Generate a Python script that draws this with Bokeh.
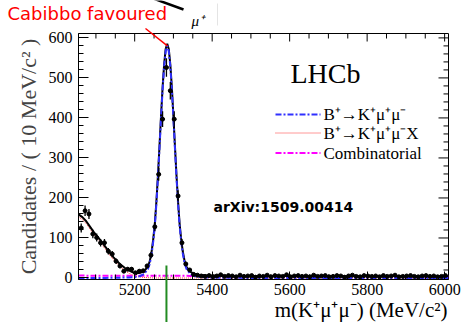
import math
from bokeh.plotting import figure
from bokeh.layouts import column
from bokeh.models import Range1d, Label, SingleIntervalTicker, ColumnDataSource
from bokeh.embed import file_html
from bokeh.resources import INLINE

# ---------------- data ----------------
bin_centers = list(range(5062, 6003, 10))          # 10 MeV/c^2 bins
counts = [125, 168, 160, 110, 101, 88, 88, 67, 60, 42,
          30, 17, 22, 22, 13, 17, 18, 30, 57, 128,
          259, 397, 526, 468, 397, 205, 88, 35, 20, 9,
          7, 5, 4, 6, 3, 5, 8, 4, 6, 5,
          3, 7, 4, 5, 6, 2, 5, 4, 7, 3,
          6, 5, 4, 8, 3, 5, 6, 4, 5, 3,
          7, 4, 5, 6, 3, 4, 6, 5, 2, 5,
          7, 4, 3, 6, 5, 4, 5, 3, 6, 4,
          5, 7, 3, 4, 5, 6, 4, 3, 5, 6,
          4, 5, 3, 4, 6]

fit_x = [5055, 5065, 5075, 5085, 5095, 5105, 5115, 5125, 5135, 5145, 5155, 5165, 5175, 5185, 5195, 5205,
         5214, 5224, 5234, 5239, 5244, 5248,
         5252, 5256, 5260, 5264, 5268, 5272, 5276, 5280, 5284, 5288, 5292, 5296, 5300, 5304, 5308, 5312,
         5316, 5320, 5324,
         5329, 5334, 5344, 5354, 5364, 5384, 5434,
         5500, 5600, 5700, 5800, 5900, 6010]
fit_signal = [0, 0, 0, 0, 0, 0.1, 0.2, 0.3, 0.4, 0.5, 0.7, 0.9, 1.1, 1.4, 1.8, 2.5,
              5, 10, 22, 36, 62, 92,
              130, 185, 250, 323, 399, 470, 528, 567, 580, 567, 528, 470, 399, 323, 250, 185,
              130, 92, 62,
              36, 22, 10, 5, 3, 1.5, 0.5,
              0.2, 0.1, 0, 0, 0, 0]
fit_partreco = [153, 146, 136, 122, 108, 96, 84, 71, 58, 46, 35, 26, 18, 12, 7, 4,
                2.5, 1.4, 0.8, 0.6, 0.4, 0.3,
                0.2, 0.15, 0.1, 0.08, 0.05, 0, 0, 0, 0, 0, 0, 0, 0, 0, 0, 0,
                0, 0, 0,
                0, 0, 0, 0, 0, 0, 0,
                0, 0, 0, 0, 0, 0]
fit_comb = [6.0, 6.0, 5.9, 5.9, 5.9, 5.8, 5.8, 5.8, 5.8, 5.7, 5.7, 5.7, 5.7, 5.6, 5.6, 5.6,
            5.6, 5.5, 5.5, 5.5, 5.5, 5.5,
            5.5, 5.5, 5.5, 5.5, 5.5, 5.4, 5.4, 5.4, 5.4, 5.4, 5.4, 5.4, 5.4, 5.4, 5.4, 5.4,
            5.4, 5.4, 5.4,
            5.4, 5.4, 5.3, 5.3, 5.3, 5.3, 5.2,
            5.1, 5.0, 4.9, 4.8, 4.7, 4.6]

legend_labels = ["B⁺→K⁺μ⁺μ⁻", "B⁺→K⁺μ⁺μ⁻X", "Combinatorial"]
x_major = [5200, 5400, 5600, 5800, 6000]
x_minor = [m for m in range(5100, 6001, 50) if m not in x_major]
y_major = [0, 100, 200, 300, 400, 500, 600]
y_minor = [m for m in range(20, 601, 20) if m not in y_major]

# ---------------- geometry ----------------
W, H = 464, 322
BL, BR, BT, BB = 78, 16, 33, 43
X0, X1 = 5055, 6010
Y0, Y1 = -3.75, 611
dx = (X1 - X0) / (W - BL - BR)     # data units per pixel
dy = (Y1 - Y0) / (H - BT - BB)

# ---------------- derived tables ----------------
fit_total = [s + b + c for s, b, c in zip(fit_signal, fit_partreco, fit_comb)]
err = [math.sqrt(max(n, 1)) for n in counts]
data_src = ColumnDataSource(dict(
    x=bin_centers, y=counts,
    ylo=[n - e for n, e in zip(counts, err)], yhi=[n + e for n, e in zip(counts, err)],
    xlo=[x - 5 for x in bin_centers], xhi=[x + 5 for x in bin_centers]))
fit_src = ColumnDataSource(dict(x=fit_x, sig=fit_signal, part=fit_partreco,
                                comb=fit_comb, tot=fit_total))

SERIF = "Liberation Serif"

p = figure(width=W, height=H, x_range=Range1d(X0, X1), y_range=Range1d(Y0, Y1),
           output_backend="svg", toolbar_location=None,
           min_border_left=BL, min_border_right=BR, min_border_top=BT, min_border_bottom=BB,
           background_fill_color="white", border_fill_color="white")
p.frame_align = False
p.xgrid.visible = False
p.ygrid.visible = False
p.outline_line_color = "black"
p.outline_line_width = 1

def style_axis(ax, ticker, major_len, minor_len):
    ax.ticker = ticker
    ax.axis_line_color = "black"
    ax.major_tick_in = major_len
    ax.major_tick_out = 0
    ax.minor_tick_in = minor_len
    ax.minor_tick_out = 0
    ax.major_tick_line_color = "black"
    ax.minor_tick_line_color = "black"
    ax.major_label_text_font = SERIF
    ax.major_label_text_font_size = "16px"
    ax.major_label_text_color = "black"

xax = p.xaxis[0]
style_axis(xax, SingleIntervalTicker(interval=200, num_minor_ticks=4), 8, 5)
xax.major_label_standoff = 4
yax = p.yaxis[0]
style_axis(yax, SingleIntervalTicker(interval=100, num_minor_ticks=5), 10, 5)
yax.major_label_standoff = 6
yax.axis_label = "Candidates / ( 10 MeV/c² )"
yax.axis_label_text_font = SERIF
yax.axis_label_text_font_size = "22px"
yax.axis_label_text_font_style = "normal"
yax.axis_label_standoff = 5

# mirrored ticks on the top and right edges of the frame
p.segment(x0=x_major, y0=[Y1] * len(x_major), x1=x_major, y1=[Y1 - 8 * dy] * len(x_major),
          line_color="black", line_width=1)
p.segment(x0=x_minor, y0=[Y1] * len(x_minor), x1=x_minor, y1=[Y1 - 5 * dy] * len(x_minor),
          line_color="black", line_width=1)
p.segment(x0=[X1] * len(y_major), y0=y_major, x1=[X1 - 10 * dx] * len(y_major), y1=y_major,
          line_color="black", line_width=1)
p.segment(x0=[X1] * len(y_minor), y0=y_minor, x1=[X1 - 5 * dx] * len(y_minor), y1=y_minor,
          line_color="black", line_width=1)

# fit components
p.line("x", "comb", source=fit_src, line_color="#ff00ff", line_width=2, line_dash="6 2 2 2")
p.line("x", "part", source=fit_src, line_color="#ff3030", line_width=1, line_dash="1 1")
p.line("x", "tot", source=fit_src, line_color="black", line_width=2)
p.line("x", "sig", source=fit_src, line_color="#3030ff", line_width=2, line_dash="6 2 2 2")

# data
p.segment("x", "ylo", "x", "yhi", source=data_src, line_color="black", line_width=1.3)
p.segment("xlo", "y", "xhi", "y", source=data_src, line_color="black", line_width=1.3)
p.scatter("x", "y", source=data_src, size=4, color="black")

# legend (drawn by hand, ROOT style)
leg_x0 = X0 + 197 * dx
leg_x1 = X0 + 242 * dx
leg_tx = X0 + 245 * dx
leg_rows = [Y0 + (H - BB - 114) * dy, Y0 + (H - BB - 132.5) * dy, Y0 + (H - BB - 152.5) * dy]
leg_styles = [dict(line_color="#3030ff", line_width=2, line_dash="6 2 2 2"),
              dict(line_color="#ff3030", line_width=1, line_dash="1 1"),
              dict(line_color="#ff00ff", line_width=2, line_dash="6 2 2 2")]
for lab, yy, st in zip(legend_labels, leg_rows, leg_styles):
    p.line([leg_x0, leg_x1], [yy, yy], **st)
    p.add_layout(Label(x=leg_tx, y=yy, text=lab, text_font=SERIF, text_font_size="17px",
                       text_baseline="middle", text_color="black"))

p.add_layout(Label(x=X0 + (325 - BL) * dx, y=Y0 + (H - BB - 73) * dy, text="LHCb",
                   text_font=SERIF, text_font_size="28px",
                   text_align="center", text_baseline="middle", text_color="black"))
p.add_layout(Label(x=X0 + (213 - BL) * dx, y=Y0 + (H - BB - 214) * dy, text="arXiv:1509.00414",
                   text_font="DejaVu Sans", text_font_style="bold", text_font_size="14px",
                   text_color="black"))

# ---------- transparent overlay for everything drawn outside the frame ----------
q = figure(width=W, height=H, x_range=Range1d(X0 - BL * dx, X1 + BR * dx),
           y_range=Range1d(Y0 - BB * dy, Y1 + BT * dy),
           output_backend="svg", toolbar_location=None, min_border=0,
           min_border_left=0, min_border_right=0, min_border_top=0, min_border_bottom=0,
           x_axis_type=None, y_axis_type=None, outline_line_color=None,
           background_fill_color=None, border_fill_color=None, margin=(-H, 0, 0, 0))
q.frame_align = False
q.grid.visible = False

def px(xp):
    return X0 + (xp - BL) * dx

def py(yp):
    return Y0 + (H - BB - yp) * dy

q.add_layout(Label(x=px(447), y=py(309), text="m(K⁺μ⁺μ⁻) (MeV/c²)", text_font=SERIF,
                   text_font_size="21px", text_align="right", text_baseline="middle",
                   text_color="black"))
q.add_layout(Label(x=px(7), y=py(23), text="Cabibbo favoured", text_font="DejaVu Sans",
                   text_font_size="18px", text_color="red"))
q.segment(x0=[px(145)], y0=[py(28)], x1=[5284.5], y1=[580], line_color="red", line_width=1.5)
q.segment(x0=[px(150)], y0=[py(-3)], x1=[px(183)], y1=[py(9)], line_color="black", line_width=2.5)
q.segment(x0=[px(217)], y0=[py(3)], x1=[px(217)], y1=[py(25)], line_color="#e4e4e4", line_width=1)
q.add_layout(Label(x=px(191), y=py(28), text="μ⁺", text_font=SERIF, text_font_style="italic",
                   text_font_size="15px", text_color="black"))
q.segment(x0=[5282], y0=[31], x1=[5282], y1=[py(H + 2)], line_color="#228b22", line_width=2)

open("out.html", "w").write(file_html(column(p, q, spacing=0), INLINE))
